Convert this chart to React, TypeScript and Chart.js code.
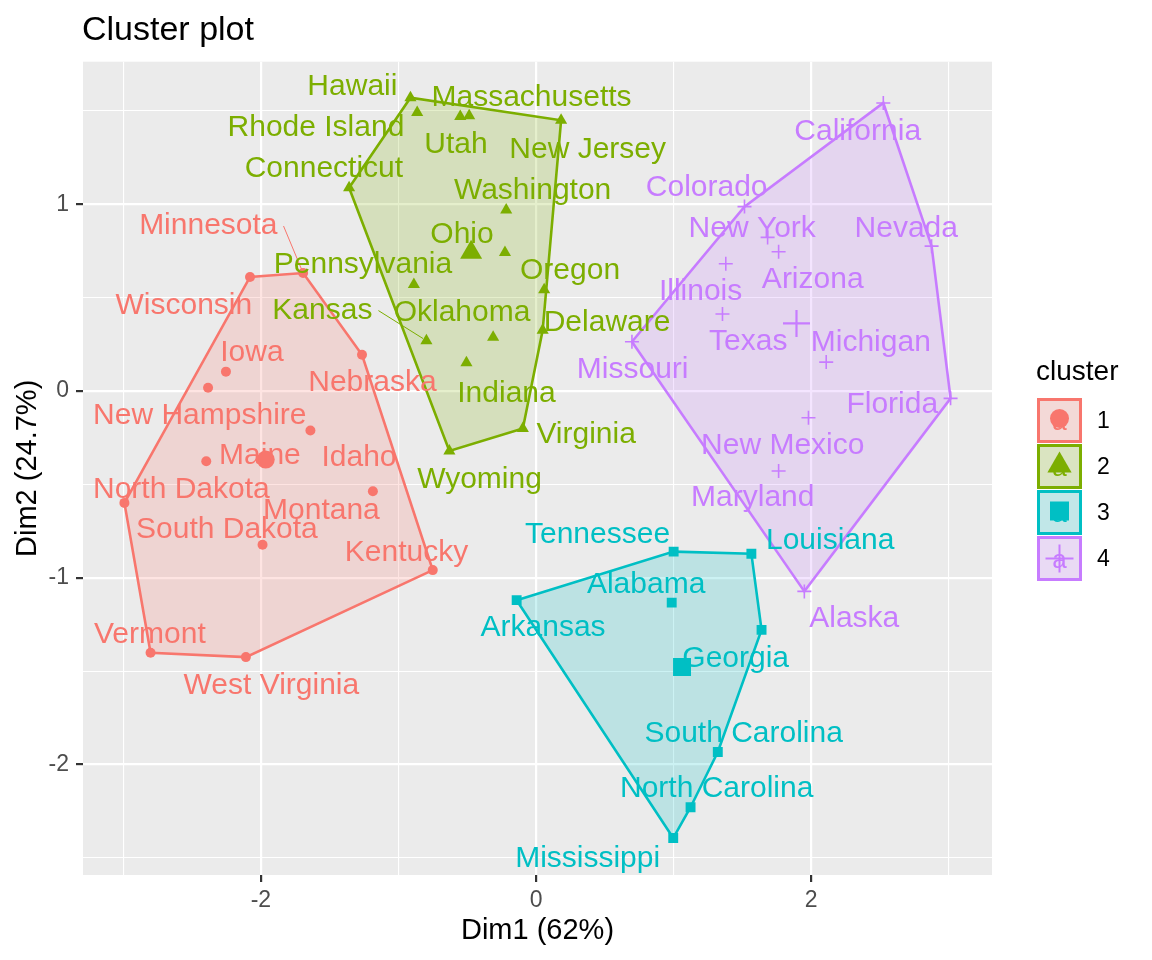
import React, { useEffect, useRef } from 'react';
import { Chart, registerables } from 'chart.js';

Chart.register(...registerables);

// ---------- data ----------
const states = [
  'Minnesota', 'Wisconsin', 'Iowa', 'Nebraska', 'New Hampshire', 'Maine', 'Idaho', 'North Dakota', 'Montana', 'South Dakota', 'Kentucky', 'Vermont', 'West Virginia',
  'Hawaii', 'Massachusetts', 'Rhode Island', 'Utah', 'New Jersey', 'Connecticut', 'Washington', 'Ohio', 'Pennsylvania', 'Oregon', 'Kansas', 'Oklahoma', 'Delaware', 'Indiana', 'Virginia', 'Wyoming',
  'Tennessee', 'Alabama', 'Arkansas', 'Georgia', 'Louisiana', 'South Carolina', 'North Carolina', 'Mississippi',
  'California', 'Colorado', 'New York', 'Nevada', 'Arizona', 'Illinois', 'Texas', 'Michigan', 'Missouri', 'Florida', 'New Mexico', 'Maryland', 'Alaska',
];
const dim1 = [
  -1.693, -2.079, -2.254, -1.265, -2.384, -2.397, -1.640, -2.992, -1.186, -1.988, -0.751, -2.802, -2.109,
  -0.913, -0.486, -0.864, -0.551, 0.182, -1.359, -0.217, -0.226, -0.888, 0.059, -0.797, -0.312, 0.048, -0.506, -0.096, -0.630,
  1.000, 0.986, -0.141, 1.639, 1.565, 1.321, 1.123, 0.997,
  2.524, 1.515, 1.683, 2.875, 1.763, 1.379, 1.355, 2.109, 0.697, 3.013, 1.980, 1.763, 1.950,
];
const dim2 = [
  0.632, 0.611, 0.104, 0.194, 0.018, -0.376, -0.211, -0.599, -0.537, -0.823, -0.959, -1.402, -1.425,
  1.571, 1.474, 1.492, 1.471, 1.450, 1.089, 0.970, 0.742, 0.571, 0.542, 0.270, 0.288, 0.325, 0.152, -0.200, -0.321,
  -0.860, -1.133, -1.120, -1.279, -0.871, -1.933, -2.229, -2.394,
  1.543, 0.988, 0.823, 0.776, 0.746, 0.682, 0.413, 0.155, 0.264, -0.039, -0.143, -0.428, -1.073,
];
const clusterOf = [
  1, 1, 1, 1, 1, 1, 1, 1, 1, 1, 1, 1, 1,
  2, 2, 2, 2, 2, 2, 2, 2, 2, 2, 2, 2, 2, 2, 2, 2,
  3, 3, 3, 3, 3, 3, 3, 3,
  4, 4, 4, 4, 4, 4, 4, 4, 4, 4, 4, 4, 4,
];
// repelled label anchors (data units)
const labelDim1 = [
  -2.382, -2.560, -2.065, -1.189, -2.444, -2.007, -1.287, -2.578, -1.560, -2.247, -0.942, -2.807, -1.924,
  -1.335, -0.033, -1.600, -0.582, 0.375, -1.542, -0.025, -0.538, -1.258, 0.247, -1.553, -0.538, 0.516, -0.215, 0.364, -0.411,
  0.447, 0.800, 0.051, 1.451, 2.138, 1.509, 1.313, 0.375,
  2.338, 1.240, 1.571, 2.691, 2.011, 1.196, 1.542, 2.433, 0.702, 2.589, 1.793, 1.575, 2.313,
];
const labelDim2 = [
  0.900, 0.474, 0.220, 0.059, -0.118, -0.332, -0.343, -0.514, -0.624, -0.728, -0.852, -1.291, -1.561,
  1.644, 1.585, 1.425, 1.334, 1.307, 1.205, 1.087, 0.852, 0.691, 0.659, 0.447, 0.434, 0.380, 0.000, -0.220, -0.461,
  -0.755, -1.023, -1.253, -1.417, -0.787, -1.818, -2.113, -2.491,
  1.406, 1.103, 0.886, 0.886, 0.611, 0.546, 0.281, 0.273, 0.129, -0.059, -0.279, -0.557, -1.205,
];
const segmentLabels = ['Minnesota', 'Kansas'];
const clusterNames = ['1', '2', '3', '4'];
const centerDim1 = [-1.965, -0.472, 1.061, 1.893];
const centerDim2 = [-0.367, 0.743, -1.478, 0.362];
const xTickValues = [-3, -2, -1, 0, 1, 2, 3];
const yTickValues = [-2.5, -2, -1.5, -1, -0.5, 0, 0.5, 1, 1.5];
const xMajor = [-2, 0, 2];
const yMajor = [-2, -1, 0, 1];

// ---------- styles ----------
const FONT = '"Liberation Sans", Arial, Helvetica, sans-serif';
const COLORS = ['#F8766D', '#7CAE00', '#00BFC4', '#C77CFF'];
const FILLS = ['rgba(248,118,109,0.2)', 'rgba(124,174,0,0.2)', 'rgba(0,191,196,0.2)', 'rgba(199,124,255,0.2)'];
const SHAPES = ['circle', 'triangle', 'rect', 'cross'];
const POINT_R = [5, 7, 7, 7];
const CENTER_R = [9, 12.7, 12.7, 13.5];
const LABEL_DY = 3;

type P = { x: number; y: number };

function convexHull(pts: P[]): P[] {
  const p = pts.slice().sort((a, b) => a.x - b.x || a.y - b.y);
  const cross = (o: P, a: P, b: P) => (a.x - o.x) * (b.y - o.y) - (a.y - o.y) * (b.x - o.x);
  const lower: P[] = [];
  for (const q of p) {
    while (lower.length >= 2 && cross(lower[lower.length - 2], lower[lower.length - 1], q) <= 0) lower.pop();
    lower.push(q);
  }
  const upper: P[] = [];
  for (let i = p.length - 1; i >= 0; i--) {
    const q = p[i];
    while (upper.length >= 2 && cross(upper[upper.length - 2], upper[upper.length - 1], q) <= 0) upper.pop();
    upper.push(q);
  }
  upper.pop();
  lower.pop();
  return lower.concat(upper);
}

function clusterPoints(c: number): P[] {
  const out: P[] = [];
  for (let i = 0; i < states.length; i++) if (clusterOf[i] === c) out.push({ x: dim1[i], y: dim2[i] });
  return out;
}

const bgPlugin = {
  id: 'panelBg',
  beforeDraw(chart: any) {
    const { ctx, chartArea } = chart;
    ctx.save();
    ctx.fillStyle = '#ffffff';
    ctx.fillRect(0, 0, chart.width, chart.height);
    ctx.fillStyle = '#ebebeb';
    ctx.fillRect(chartArea.left, chartArea.top, chartArea.right - chartArea.left, chartArea.bottom - chartArea.top);
    ctx.restore();
  },
};

const labelPlugin = {
  id: 'stateLabels',
  afterDatasetsDraw(chart: any) {
    const { ctx } = chart;
    const xs = chart.scales.x;
    const ys = chart.scales.y;
    ctx.save();
    ctx.font = `30px ${FONT}`;
    ctx.textAlign = 'center';
    ctx.textBaseline = 'middle';
    for (let i = 0; i < states.length; i++) {
      const col = COLORS[clusterOf[i] - 1];
      const lx = xs.getPixelForValue(labelDim1[i]);
      const ly = ys.getPixelForValue(labelDim2[i]) + LABEL_DY;
      ctx.fillStyle = col;
      ctx.fillText(states[i], lx, ly);
      if (segmentLabels.includes(states[i])) {
        const w = ctx.measureText(states[i]).width;
        const sx = lx + w / 2 + 6;
        const sy = ly;
        const px = xs.getPixelForValue(dim1[i]);
        const py = ys.getPixelForValue(dim2[i]);
        const dx = px - sx, dy = py - sy;
        const len = Math.hypot(dx, dy);
        const ex = px - (dx / len) * 4;
        const ey = py - (dy / len) * 4;
        ctx.strokeStyle = col;
        ctx.lineWidth = 1;
        ctx.beginPath();
        ctx.moveTo(sx, sy);
        ctx.lineTo(ex, ey);
        ctx.stroke();
      }
    }
    ctx.restore();
  },
};

function drawSymbol(ctx: CanvasRenderingContext2D, c: number, x: number, y: number) {
  ctx.fillStyle = COLORS[c];
  ctx.strokeStyle = COLORS[c];
  if (c === 0) {
    ctx.beginPath();
    ctx.arc(x, y - 2, 9.5, 0, Math.PI * 2);
    ctx.fill();
  } else if (c === 1) {
    const r = 14;
    ctx.beginPath();
    ctx.moveTo(x, y - r - 1);
    ctx.lineTo(x + r * 0.866, y + r * 0.5 - 1);
    ctx.lineTo(x - r * 0.866, y + r * 0.5 - 1);
    ctx.closePath();
    ctx.fill();
  } else if (c === 2) {
    ctx.fillRect(x - 9.5, y - 11, 19, 19);
  } else {
    ctx.lineWidth = 2;
    ctx.beginPath();
    ctx.moveTo(x - 14, y);
    ctx.lineTo(x + 14, y);
    ctx.moveTo(x, y - 14);
    ctx.lineTo(x, y + 14);
    ctx.stroke();
  }
}

const decorPlugin = {
  id: 'decor',
  afterDraw(chart: any) {
    const { ctx } = chart;
    ctx.save();
    // title
    ctx.fillStyle = '#000000';
    ctx.font = `34px ${FONT}`;
    ctx.textAlign = 'left';
    ctx.textBaseline = 'alphabetic';
    ctx.fillText('Cluster plot', 82, 40);
    // legend
    ctx.font = `28px ${FONT}`;
    ctx.fillText('cluster', 1036, 380);
    for (let c = 0; c < 4; c++) {
      const top = 398 + c * 46;
      const left = 1037;
      const size = 45;
      ctx.fillStyle = '#f2f2f2';
      ctx.fillRect(left, top, size, size);
      ctx.fillStyle = FILLS[c];
      ctx.fillRect(left, top, size, size);
      ctx.strokeStyle = COLORS[c];
      ctx.lineWidth = 3;
      ctx.strokeRect(left + 1.5, top + 1.5, size - 3, size - 3);
      const cx = left + size / 2;
      const cy = top + size / 2;
      ctx.fillStyle = COLORS[c];
      ctx.font = `26px ${FONT}`;
      ctx.textAlign = 'center';
      ctx.textBaseline = 'middle';
      ctx.fillText('a', cx, cy + 2);
      drawSymbol(ctx, c, cx, cy);
      ctx.fillStyle = '#000000';
      ctx.font = `23px ${FONT}`;
      ctx.textAlign = 'left';
      ctx.fillText(clusterNames[c], 1097, cy + 1);
    }
    ctx.restore();
  },
};

function buildConfig(): any {
  const datasets: any[] = [];
  for (let c = 0; c < 4; c++) {
    const hull = convexHull(clusterPoints(c + 1));
    datasets.push({
      type: 'line',
      label: 'hull' + clusterNames[c],
      data: hull.concat([hull[0]]),
      borderColor: COLORS[c],
      backgroundColor: FILLS[c],
      borderWidth: 2.6,
      fill: 'shape',
      pointRadius: 0,
      tension: 0,
      order: 10,
    });
  }
  for (let c = 0; c < 4; c++) {
    datasets.push({
      type: 'scatter',
      label: 'cluster' + clusterNames[c],
      data: clusterPoints(c + 1),
      pointStyle: SHAPES[c],
      pointRadius: POINT_R[c],
      backgroundColor: COLORS[c],
      borderColor: COLORS[c],
      borderWidth: c === 3 ? 1.6 : 0,
      order: 2,
    });
    datasets.push({
      type: 'scatter',
      label: 'center' + clusterNames[c],
      data: [{ x: centerDim1[c], y: centerDim2[c] }],
      pointStyle: SHAPES[c],
      pointRadius: CENTER_R[c],
      backgroundColor: COLORS[c],
      borderColor: COLORS[c],
      borderWidth: c === 3 ? 2.2 : 0,
      order: 1,
    });
  }

  const tickFont = { family: FONT, size: 23 };
  return {
    type: 'scatter',
    data: { datasets },
    plugins: [bgPlugin, labelPlugin, decorPlugin],
    options: {
      animation: false,
      responsive: false,
      devicePixelRatio: 1,
      layout: { padding: { top: 61.7, right: 160, bottom: 0, left: 0 } },
      plugins: { legend: { display: false }, tooltip: { enabled: false }, title: { display: false } },
      scales: {
        x: {
          type: 'linear',
          min: -3.293,
          max: 3.314,
          afterBuildTicks: (s: any) => { s.ticks = xTickValues.map((v) => ({ value: v })); },
          afterFit: (s: any) => { s.height = 85; },
          border: { display: false },
          grid: {
            color: '#ffffff',
            lineWidth: (ctx: any) => (ctx.tick && xMajor.includes(ctx.tick.value) ? 2.2 : 1.1),
            drawTicks: true,
            tickLength: 7,
            tickWidth: 2.2,
            tickColor: (ctx: any) => (ctx.tick && xMajor.includes(ctx.tick.value) ? '#333333' : 'rgba(0,0,0,0)'),
          },
          ticks: {
            autoSkip: false,
            maxRotation: 0,
            padding: 5,
            color: '#4d4d4d',
            font: tickFont,
            callback: (v: any) => (xMajor.includes(Number(v)) ? String(v) : ''),
          },
          title: { display: true, text: 'Dim1 (62%)', color: '#000000', font: { family: FONT, size: 29 }, padding: { top: 0, bottom: 12 } },
        },
        y: {
          type: 'linear',
          min: -2.592,
          max: 1.764,
          afterBuildTicks: (s: any) => { s.ticks = yTickValues.map((v) => ({ value: v })); },
          afterFit: (s: any) => { s.width = 83; },
          border: { display: false },
          grid: {
            color: '#ffffff',
            lineWidth: (ctx: any) => (ctx.tick && yMajor.includes(ctx.tick.value) ? 2.2 : 1.1),
            drawTicks: true,
            tickLength: 7,
            tickWidth: 2.2,
            tickColor: (ctx: any) => (ctx.tick && yMajor.includes(ctx.tick.value) ? '#333333' : 'rgba(0,0,0,0)'),
          },
          ticks: {
            autoSkip: false,
            padding: 7,
            color: '#4d4d4d',
            font: tickFont,
            callback: (v: any) => (yMajor.includes(Number(v)) ? String(v) : ''),
          },
          title: { display: true, text: 'Dim2 (24.7%)', color: '#000000', font: { family: FONT, size: 29 }, padding: { top: 10.6, bottom: 0 } },
        },
      },
    },
  };
}

export default function App() {
  const ref = useRef<HTMLCanvasElement>(null);
  useEffect(() => {
    if (!ref.current) return;
    const chart = new Chart(ref.current, buildConfig());
    return () => chart.destroy();
  }, []);
  return (
    <div style={{ position: 'absolute', left: 0, top: 0, width: 1152, height: 960, background: '#ffffff' }}>
      <canvas ref={ref} width={1152} height={960} style={{ display: 'block', width: 1152, height: 960 }} />
    </div>
  );
}
